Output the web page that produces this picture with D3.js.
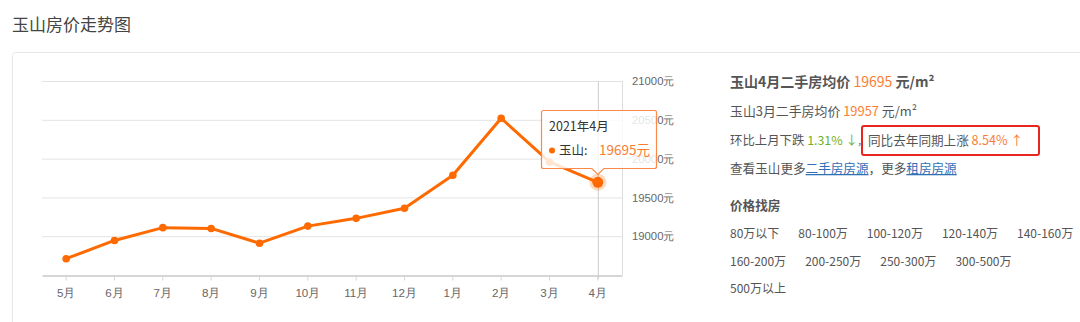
<!DOCTYPE html>
<html><head><meta charset="utf-8">
<script src="https://cdn.jsdelivr.net/npm/d3@7"></script>
<style>
html,body{margin:0;padding:0;background:#fff;}
svg{display:block;font-family:"Noto Sans CJK SC","Noto Sans",sans-serif;}
</style></head>
<body>
<svg id="c" width="1080" height="322"></svg>
<script>
const months = ["5月","6月","7月","8月","9月","10月","11月","12月","1月","2月","3月","4月"];
const prices = [18710, 18945, 19110, 19100, 18910, 19130, 19230, 19360, 19785, 20520, 19957, 19695];
const yTicks = [18500, 19000, 19500, 20000, 20500, 21000];
const yLabelTicks = [19000, 19500, 20000, 20500, 21000];
const title = "玉山房价走势图";
const tipTitle = "2021年4月";
const tipName = "玉山";
const priceRanges1 = ["80万以下","80-100万","100-120万","120-140万","140-160万"];
const priceRanges2 = ["160-200万","200-250万","250-300万","300-500万"];
const priceRanges3 = ["500万以上"];

const ORANGE = "#ff6a00", TXT_OR = "#fb7d34", GREEN = "#6fb12b", GRAY = "#555", LINK = "#2f6fb6";
const svg = d3.select("#c");

svg.append("text").attr("x", 12).attr("y", 31).attr("font-size", 17).attr("fill", "#444").text(title);
svg.append("rect").attr("x", 12.5).attr("y", 52.5).attr("width", 1100).attr("height", 320)
  .attr("rx", 3).attr("fill", "none").attr("stroke", "#e6e6e6");

const L = 42, R = 622, T = 81, B = 275;
const x = d3.scaleBand().domain(months).range([L, R]);
const y = d3.scaleLinear().domain([18500, 21000]).range([B, T]);
const cx = d => x(d) + x.bandwidth() / 2;

// grid
svg.append("g").selectAll("line").data(yTicks.filter(v => v > 18500)).join("line")
  .attr("x1", L).attr("x2", R).attr("y1", d => y(d) + 0.5).attr("y2", d => y(d) + 0.5)
  .attr("stroke", "#e3e3e3").attr("stroke-width", 1);

// right axis
const ya = d3.axisRight(y).tickValues(yLabelTicks).tickSize(0).tickPadding(9.5).tickFormat(d => d + "元");
const gy = svg.append("g").attr("transform", `translate(${R + 0.5},0)`).call(ya);
gy.select(".domain").attr("stroke", "#ddd").attr("d", `M0,${T}V${B}`);
gy.selectAll("text").attr("font-size", 11.3).attr("fill", "#666").attr("font-family", "inherit");

// bottom axis
const xa = d3.axisBottom(x).tickSize(5).tickSizeOuter(0).tickPadding(8);
const gx = svg.append("g").attr("transform", `translate(0,${B + 0.5})`).call(xa);
gx.select(".domain").attr("stroke", "#d6d6d6").attr("stroke-width", 2);
gx.selectAll(".tick line").attr("stroke", "#d6d6d6");
gx.selectAll("text").attr("font-size", 11.6).attr("fill", "#666").attr("font-family", "inherit");

// crosshair
const last = months.length - 1;
svg.append("line").attr("x1", cx(months[last]) + 0.5).attr("x2", cx(months[last]) + 0.5)
  .attr("y1", T).attr("y2", B + 4).attr("stroke", "#ccc");

// line
const data = months.map((m, i) => ({m, v: prices[i]}));
svg.append("path").datum(data)
  .attr("d", d3.line().x(d => cx(d.m)).y(d => y(d.v)))
  .attr("fill", "none").attr("stroke", ORANGE).attr("stroke-width", 3).attr("stroke-linejoin", "round");
svg.append("g").selectAll("circle").data(data.slice(0, last)).join("circle")
  .attr("cx", d => cx(d.m)).attr("cy", d => y(d.v)).attr("r", 3.8).attr("fill", ORANGE);
const lp = data[last];
svg.append("circle").attr("cx", cx(lp.m)).attr("cy", y(lp.v)).attr("r", 8.5).attr("fill", ORANGE).attr("opacity", 0.25);
svg.append("circle").attr("cx", cx(lp.m)).attr("cy", y(lp.v)).attr("r", 5.5).attr("fill", ORANGE);

// tooltip
const tx = 541.5, ty = 110.5, tw = 115, th = 58;
const ax = cx(lp.m), ab = ty + th;
svg.append("path")
  .attr("d", `M${tx + 2},${ty} H${tx + tw - 2} Q${tx + tw},${ty} ${tx + tw},${ty + 2} V${ab - 2} Q${tx + tw},${ab} ${tx + tw - 2},${ab} H${ax + 6} L${ax},${ab + 6} L${ax - 6},${ab} H${tx + 2} Q${tx},${ab} ${tx},${ab - 2} V${ty + 2} Q${tx},${ty} ${tx + 2},${ty} Z`)
  .attr("fill", "rgba(255,255,255,0.82)").attr("stroke", "#fb8a4a").attr("stroke-width", 1.2);
svg.append("text").attr("x", 549).attr("y", 131).attr("font-size", 12.5).attr("fill", "#333").text(tipTitle);
svg.append("circle").attr("cx", 552).attr("cy", 150.5).attr("r", 3).attr("fill", ORANGE);
svg.append("text").attr("x", 559).attr("y", 155).attr("font-size", 12.5).attr("fill", "#333").text(tipName + ":");
svg.append("text").attr("x", 599).attr("y", 155).attr("font-size", 13.5).attr("fill", TXT_OR).text(lp.v + "元");

// right info
const RX = 730;
const t1 = svg.append("text").attr("x", RX).attr("y", 87).attr("font-size", 14).attr("font-weight", "bold").attr("fill", GRAY);
t1.append("tspan").text(`玉山${months[last]}二手房均价 `);
t1.append("tspan").attr("fill", TXT_OR).attr("font-weight", "normal").text(lp.v);
t1.append("tspan").text(" 元/m²");
const t2 = svg.append("text").attr("x", RX).attr("y", 116).attr("font-size", 12.9).attr("fill", GRAY);
t2.append("tspan").text(`玉山${months[last - 1]}二手房均价 `);
t2.append("tspan").attr("fill", TXT_OR).text(prices[last - 1]);
t2.append("tspan").text(" 元/m²");
const mom = ((prices[last - 1] - lp.v) / prices[last - 1] * 100).toFixed(2);
const t3 = svg.append("text").attr("x", RX).attr("y", 145).attr("font-size", 12.4).attr("fill", GRAY);
t3.append("tspan").text("环比上月下跌 ");
t3.append("tspan").attr("fill", GREEN).text(mom + "% ↓");
svg.append("text").attr("x", 857.5).attr("y", 145).attr("font-size", 9).attr("fill", GRAY).text("，");
const t3b = svg.append("text").attr("x", 868).attr("y", 145).attr("font-size", 12.6).attr("fill", GRAY);
t3b.append("tspan").text("同比去年同期上涨 ");
t3b.append("tspan").attr("fill", TXT_OR).text("8.54% ↑");
svg.append("rect").attr("x", 862).attr("y", 126).attr("width", 177).attr("height", 29).attr("rx", 2)
  .attr("fill", "none").attr("stroke", "#e8261f").attr("stroke-width", 2);
const t4 = svg.append("text").attr("x", RX).attr("y", 173).attr("font-size", 12.6).attr("fill", GRAY);
t4.append("tspan").text("查看玉山更多");
t4.append("tspan").attr("fill", LINK).attr("text-decoration", "underline").text("二手房房源");
t4.append("tspan").text("，更多");
t4.append("tspan").attr("fill", LINK).attr("text-decoration", "underline").text("租房房源");

svg.append("text").attr("x", RX).attr("y", 210).attr("font-size", 12.6).attr("font-weight", "bold").attr("fill", GRAY).text("价格找房");
[[priceRanges1, 238], [priceRanges2, 266], [priceRanges3, 293]].forEach(([arr, yy]) => {
  let xx = RX;
  arr.forEach(s => {
    const t = svg.append("text").attr("x", xx).attr("y", yy).attr("font-size", 12).attr("fill", GRAY).text(s);
    xx += t.node().getComputedTextLength() + 19;
  });
});
</script>
</body></html>
